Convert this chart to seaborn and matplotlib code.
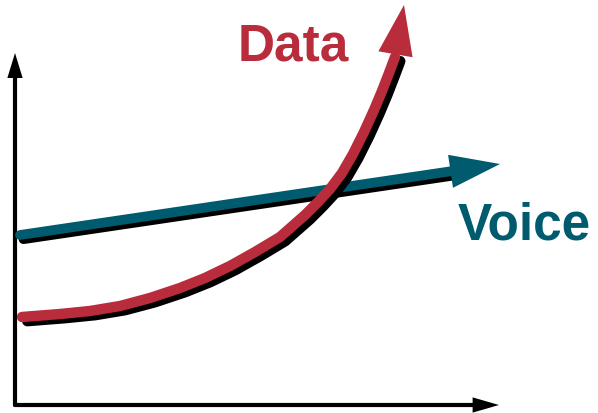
import seaborn as sns
import matplotlib.pyplot as plt
import matplotlib.patheffects as pe
import pandas as pd

# curva de datos (lectura aproximada de la imagen, eje y hacia arriba)
data_x = [22, 60, 90, 120, 150, 180, 205, 230, 255, 280, 305, 318, 330, 342, 353, 364, 374, 382, 389, 395, 404]
data_y = [96, 99, 102, 107, 115, 125, 135, 147, 161, 176, 198, 211, 224, 240, 259, 281, 303, 322, 340, 356, 408]

voice_x = [20, 500]
voice_y = [178, 249]

eje_x = [15, 499]
eje_y = [8, 360]

rojo = "#B82C3C"
azul = "#005B6E"

sns.set_style("white")
fig = plt.figure(figsize=(5.98, 4.13), dpi=100)
ax = fig.add_axes([0, 0, 1, 1])
ax.set_xlim(0, 598)
ax.set_ylim(0, 413)
ax.axis("off")


def flecha(x, y, color, ancho, largo, mitad, efectos=None):
    # linea + cabeza de flecha en el ultimo tramo
    df = pd.DataFrame({"x": x[:-1], "y": y[:-1]})
    sns.lineplot(data=df, x="x", y="y", sort=False, estimator=None,
                 color=color, lw=ancho, ax=ax)
    ln = ax.lines[-1]
    ln.set_solid_capstyle("round")
    ln.set_solid_joinstyle("round")
    if efectos:
        ln.set_path_effects(efectos)
    an = ax.annotate("", xy=(x[-1], y[-1]), xytext=(x[-2], y[-2]),
                     arrowprops=dict(arrowstyle=f"-|>,head_length={largo},head_width={mitad}",
                                     color=color, lw=0, shrinkA=0, shrinkB=0,
                                     mutation_scale=1))
    if efectos:
        an.arrow_patch.set_path_effects(efectos)


# ejes
flecha([eje_x[0], eje_x[0], eje_x[0]], [eje_y[0], eje_y[1] - 20, eje_y[1]], "black", 3, 18, 5.5)
flecha([eje_x[0], eje_x[1] - 20, eje_x[1]], [eje_y[0], eje_y[0], eje_y[0]], "black", 3, 19, 5.5)

# voz
vx = [voice_x[0], voice_x[1] - 45, voice_x[1]]
pend = (voice_y[1] - voice_y[0]) / (voice_x[1] - voice_x[0])
vy = [voice_y[0], voice_y[0] + pend * (vx[1] - voice_x[0]), voice_y[1]]
flecha(vx, vy, azul, 7, 36, 12,
       [pe.SimpleLineShadow(offset=(2.5, -3), shadow_color="black", alpha=1), pe.Normal()])

# datos
flecha(data_x, data_y, rojo, 7.5, 36, 12.5,
       [pe.SimpleLineShadow(offset=(3.8, -3), shadow_color="black", alpha=1), pe.Normal()])

ax.text(293, 366, "Data", color=rojo, fontsize=37, fontweight="bold",
        family="Liberation Sans", ha="center", va="center")
ax.text(524, 187, "Voice", color=azul, fontsize=37, fontweight="bold",
        family="Liberation Sans", ha="center", va="center")

plt.savefig("out.png", dpi=100)
plt.close()
